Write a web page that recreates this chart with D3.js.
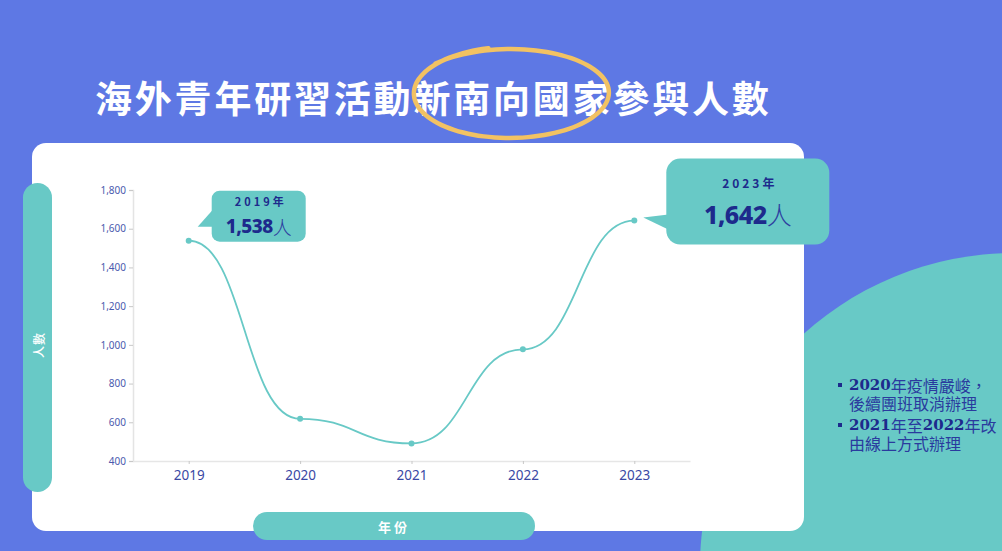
<!DOCTYPE html>
<html>
<head>
<meta charset="utf-8">
<script src="https://cdn.jsdelivr.net/npm/d3@7"></script>
<style>
  body { margin: 0; background: #5e78e4; overflow: hidden; }
  svg { display: block; font-family: "Noto Sans CJK TC", "Noto Sans", sans-serif; }
</style>
</head>
<body>
<div id="chart-area"></div>
<script>
// chart size
var width = 1002,
	height = 551;

// data
var years = ["2019", "2020", "2021", "2022", "2023"];
var people = [1538, 618, 491, 977, 1642];
var yTicks = [400, 600, 800, 1000, 1200, 1400, 1600, 1800];
var callouts = [
	{ year: "2019", label: "2019年", value: 1538 },
	{ year: "2023", label: "2023年", value: 1642 }
];
var notes = [
	[{ t: "2020", b: true }, { t: "年疫情嚴峻，" }],
	[{ t: "後續團班取消辦理" }],
	[{ t: "2021", b: true }, { t: "年至" }, { t: "2022", b: true }, { t: "年改" }],
	[{ t: "由線上方式辦理" }]
];

var teal = "#68c9c6",
	navy = "#1d2a8c",
	blue = "#5e78e4";

var data = years.map(function(y, i) { return { year: y, value: people[i] }; });

var svg = d3.select("#chart-area")
	.append("svg")
	.attr("width", width)
	.attr("height", height);

// background decoration
svg.append("circle")
	.attr("cx", 1014).attr("cy", 567).attr("r", 314)
	.attr("fill", teal);

// title
svg.append("text")
	.attr("x", 95).attr("y", 97)
	.attr("dominant-baseline", "central")
	.attr("fill", "#ffffff")
	.attr("font-size", 37)
	.attr("font-weight", 700)
	.attr("letter-spacing", 2.8)
	.text("海外青年研習活動新南向國家參與人數");

// hand drawn ring round 新南向國家
var ring = [];
for (var k = 0; k <= 60; k++) {
	var a = -2.4 + k / 60 * (2 * Math.PI + 0.6);
	var shrink = 1 - 0.06 * k / 60;
	ring.push([510 + 101 * shrink * Math.cos(a), 93 + 45 * Math.sin(a) * (0.97 + 0.05 * k / 60)]);
}
svg.append("path")
	.attr("d", d3.line().curve(d3.curveCatmullRom)(ring))
	.attr("fill", "none")
	.attr("stroke", "#f2c263")
	.attr("stroke-width", 4.5)
	.attr("stroke-linecap", "round");

// white panel
svg.append("rect")
	.attr("x", 32).attr("y", 143)
	.attr("width", 772).attr("height", 388)
	.attr("rx", 14)
	.attr("fill", "#ffffff");

// scales
var x = d3.scalePoint()
	.domain(years)
	.range([133, 690])
	.padding(0.5);

var y = d3.scaleLinear()
	.domain([400, 1800])
	.range([461, 190]);

// axes
var yAxis = d3.axisLeft(y)
	.tickValues(yTicks)
	.tickFormat(d3.format(","))
	.tickSize(4)
	.tickPadding(3);

var gy = svg.append("g")
	.attr("transform", "translate(133,0)")
	.call(yAxis);
gy.select(".domain").attr("stroke", "#e4e4e4").attr("stroke-width", 1.5);
gy.selectAll(".tick line").attr("stroke", "#c8c8c8");
gy.selectAll(".tick text")
	.attr("fill", "#4b5aae")
	.attr("font-size", 10)
	.attr("font-family", "Noto Sans, sans-serif");

var xAxis = d3.axisBottom(x)
	.tickSize(3)
	.tickPadding(6)
	.tickSizeOuter(0);

var gx = svg.append("g")
	.attr("transform", "translate(0,461)")
	.call(xAxis);
gx.select(".domain").attr("stroke", "#e6e6e6").attr("stroke-width", 1.5);
gx.selectAll(".tick line").attr("stroke", "#c8c8c8");
gx.selectAll(".tick text")
	.attr("fill", "#3a48a4")
	.attr("font-size", 13.5)
	.attr("font-family", "Noto Sans, sans-serif");

// line
var line = d3.line()
	.x(function(d) { return x(d.year); })
	.y(function(d) { return y(d.value); })
	.curve(d3.curveBumpX);

svg.append("path")
	.datum(data)
	.attr("d", line)
	.attr("fill", "none")
	.attr("stroke", teal)
	.attr("stroke-width", 1.8);

svg.selectAll(".dot")
	.data(data)
	.enter()
	.append("circle")
	.attr("class", "dot")
	.attr("cx", function(d) { return x(d.year); })
	.attr("cy", function(d) { return y(d.value); })
	.attr("r", 3)
	.attr("fill", teal);

// callout bubbles
var fmt = d3.format(",");
var sizes = [
	{ dx: 23, dy: -50, w: 94, h: 51, r: 8, fy: 11, fv: 19, ty: 10, vy: 35, tail: 9 },
	{ dx: 32, dy: -62, w: 163, h: 86, r: 14, fy: 12, fv: 25, ty: 24, vy: 55, tail: 6 }
];

callouts.forEach(function(c, i) {
	var s = sizes[i];
	var px = x(c.year), py = y(c.value);
	var bx = px + s.dx, by = py + s.dy;
	var g = svg.append("g");
	g.append("path")
		.attr("d", "M" + (px + 9) + "," + (py - 14 + (i ? 11 : 0)) +
			"L" + (bx + 2) + "," + (by + s.h - 24 - s.tail) +
			"L" + (bx + 2) + "," + (by + s.h - 15) + "Z")
		.attr("fill", teal);
	g.append("rect")
		.attr("x", bx).attr("y", by)
		.attr("width", s.w).attr("height", s.h)
		.attr("rx", s.r)
		.attr("fill", teal);
	g.append("text")
		.attr("x", bx + s.w / 2 + 2).attr("y", by + s.ty)
		.attr("text-anchor", "middle")
		.attr("dominant-baseline", "central")
		.attr("fill", navy)
		.attr("font-size", s.fy)
		.attr("font-weight", 700)
		.attr("letter-spacing", 3)
		.text(c.label);
	var v = g.append("text")
		.attr("x", bx + s.w / 2).attr("y", by + s.vy)
		.attr("text-anchor", "middle")
		.attr("dominant-baseline", "central")
		.attr("fill", navy)
		.attr("font-size", s.fv);
	v.append("tspan")
		.attr("font-family", "Noto Sans, sans-serif")
		.attr("font-weight", 800)
		.attr("letter-spacing", -0.5)
		.text(fmt(c.value));
	v.append("tspan")
		.attr("font-weight", 300)
		.attr("fill", "#2d3ea0")
		.text("人");
});

// axis title pills
svg.append("rect")
	.attr("x", 23).attr("y", 183)
	.attr("width", 29).attr("height", 309)
	.attr("rx", 14.5)
	.attr("fill", teal);
svg.append("text")
	.attr("transform", "translate(38,345) rotate(-90)")
	.attr("text-anchor", "middle")
	.attr("dominant-baseline", "central")
	.attr("fill", "#ffffff")
	.attr("font-size", 12)
	.attr("font-weight", 500)
	.attr("letter-spacing", 1)
	.text("人數");

svg.append("rect")
	.attr("x", 253).attr("y", 512)
	.attr("width", 282).attr("height", 28)
	.attr("rx", 14)
	.attr("fill", teal);
svg.append("text")
	.attr("x", 394).attr("y", 526)
	.attr("text-anchor", "middle")
	.attr("dominant-baseline", "central")
	.attr("fill", "#ffffff")
	.attr("font-size", 13)
	.attr("font-weight", 700)
	.attr("letter-spacing", 3)
	.text("年份");

// side notes
var lineY = [385, 403, 425, 443];
notes.forEach(function(parts, i) {
	if (i % 2 === 0) {
		svg.append("rect")
			.attr("x", 838).attr("y", lineY[i] - 2)
			.attr("width", 4).attr("height", 4)
			.attr("fill", navy);
	}
	var t = svg.append("text")
		.attr("x", 849).attr("y", lineY[i])
		.attr("dominant-baseline", "central")
		.attr("font-size", 15.5);
	parts.forEach(function(p) {
		t.append("tspan")
			.attr("font-family", p.b ? "DejaVu Serif, serif" : "Noto Sans CJK TC, sans-serif")
			.attr("font-weight", p.b ? 700 : 400)
			.attr("font-size", p.b ? 15 : 16)
			.attr("fill", p.b ? navy : "#2a3a9e")
			.text(p.t);
	});
});
</script>
</body>
</html>
